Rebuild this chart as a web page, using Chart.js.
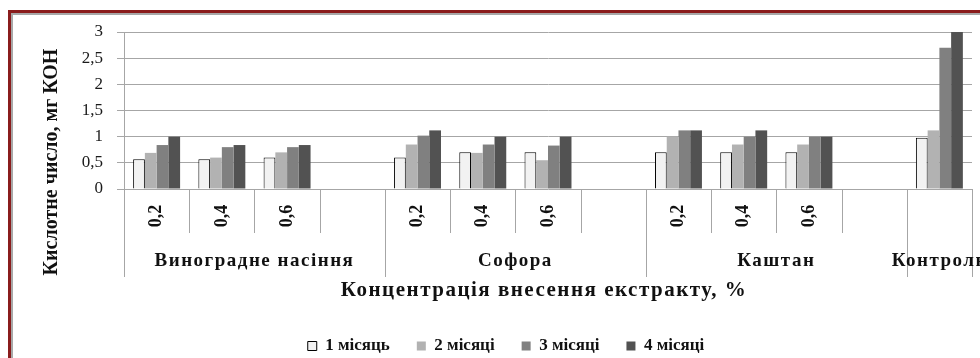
<!DOCTYPE html>
<html>
<head>
<meta charset="utf-8">
<script src="https://cdn.jsdelivr.net/npm/chart.js@4/dist/chart.umd.min.js"></script>
<style>
  html, body { margin: 0; padding: 0; background: #fff; }
  #wrap { width: 980px; height: 358px; }
</style>
</head>
<body>
<div id="wrap"><canvas id="graphique"></canvas></div>
<script>
const concentrations = ["0,2", "0,4", "0,6", "", "0,2", "0,4", "0,6", "", "0,2", "0,4", "0,6", "", ""];
const extraits = ["Виноградне насіння", "Софора", "Каштан", "Контроль"];
const colonnesParExtrait = [4, 4, 4, 1];

const mois1 = [0.57, 0.57, 0.60, null, 0.60, 0.70, 0.70, null, 0.70, 0.70, 0.70, null, 0.98];
const mois2 = [0.69, 0.60, 0.70, null, 0.85, 0.69, 0.55, null, 1.00, 0.85, 0.85, null, 1.12];
const mois3 = [0.84, 0.80, 0.80, null, 1.02, 0.85, 0.83, null, 1.12, 1.00, 1.00, null, 2.70];
const mois4 = [1.00, 0.84, 0.84, null, 1.12, 1.00, 1.00, null, 1.12, 1.12, 1.00, null, 3.00];

const nomsSeries = ["1 місяць", "2 місяці", "3 місяці", "4 місяці"];
const ticksY = [0, 0.5, 1, 1.5, 2, 2.5, 3];

const police = "'Liberation Serif', 'Times New Roman', serif";
const gris = "#a6a6a6";

// cadre rouge + fond blanc
const cadre = {
  id: "cadre",
  beforeDraw(chart) {
    const ctx = chart.ctx;
    ctx.save();
    ctx.fillStyle = "#fff";
    ctx.fillRect(0, 0, chart.width, chart.height);
    ctx.strokeStyle = "#8a1c1c";
    ctx.lineWidth = 3;
    ctx.beginPath();
    ctx.moveTo(9.5, chart.height + 5);
    ctx.lineTo(9.5, 11.5);
    ctx.lineTo(chart.width + 5, 11.5);
    ctx.stroke();
    ctx.strokeStyle = "#a8a8a8";
    ctx.lineWidth = 2;
    ctx.beginPath();
    ctx.moveTo(12, chart.height + 5);
    ctx.lineTo(12, 14);
    ctx.lineTo(chart.width + 5, 14);
    ctx.stroke();
    ctx.restore();
  }
};

// axe des catégories à deux niveaux + titres des axes
const axeGroupes = {
  id: "axeGroupes",
  afterDraw(chart) {
    const ctx = chart.ctx;
    const x = chart.scales.x;
    const area = chart.chartArea;
    const pas = x.getPixelForValue(1) - x.getPixelForValue(0);
    const bords = [];
    for (let i = 0; i <= concentrations.length; i++) {
      bords.push(x.getPixelForValue(0) - pas / 2 + i * pas);
    }
    const limites = [0];
    for (let n of colonnesParExtrait) limites.push(limites[limites.length - 1] + n);

    ctx.save();
    ctx.strokeStyle = gris;
    ctx.lineWidth = 1;
    for (let i = 0; i < bords.length; i++) {
      const bx = Math.round(bords[i]) + 0.5;
      const long = limites.includes(i);
      ctx.beginPath();
      ctx.moveTo(bx, area.bottom);
      ctx.lineTo(bx, area.bottom + (long ? 88 : 44));
      ctx.stroke();
    }

    ctx.fillStyle = "#111";
    ctx.textAlign = "center";
    ctx.textBaseline = "middle";
    ctx.font = "bold 18px " + police;
    for (let i = 0; i < concentrations.length; i++) {
      if (!concentrations[i]) continue;
      ctx.save();
      ctx.translate(x.getPixelForValue(i), area.bottom + 27);
      ctx.rotate(-Math.PI / 2);
      ctx.fillText(concentrations[i], 0, 0);
      ctx.restore();
    }

    ctx.font = "bold 19px " + police;
    ctx.letterSpacing = "1.5px";
    for (let g = 0; g < extraits.length; g++) {
      const cx = (bords[limites[g]] + bords[limites[g + 1]]) / 2;
      ctx.fillText(extraits[g], cx, area.bottom + 72);
    }

    ctx.font = "bold 21px " + police;
    ctx.fillText("Концентрація внесення екстракту, %", (area.left + area.right) / 2 - 4, area.bottom + 102);

    ctx.letterSpacing = "0px";
    ctx.save();
    ctx.translate(52, 162);
    ctx.rotate(-Math.PI / 2);
    ctx.font = "bold 20px " + police;
    ctx.fillText("Кислотне число, мг КОН", 0, 0);
    ctx.restore();
    ctx.restore();
  }
};

const data = {
  labels: concentrations,
  datasets: [
    { label: nomsSeries[0], data: mois1, backgroundColor: "#f2f2f2", borderColor: "#000", borderWidth: 1 },
    { label: nomsSeries[1], data: mois2, backgroundColor: "#b2b2b2", borderColor: "#b2b2b2", borderWidth: 0 },
    { label: nomsSeries[2], data: mois3, backgroundColor: "#808080", borderColor: "#808080", borderWidth: 0 },
    { label: nomsSeries[3], data: mois4, backgroundColor: "#525252", borderColor: "#525252", borderWidth: 0 }
  ]
};

const config = {
  type: "bar",
  data: data,
  options: {
    responsive: true,
    maintainAspectRatio: false,
    animation: false,
    datasets: { bar: { categoryPercentage: 0.72, barPercentage: 1.0 } },
    layout: { padding: { left: 40, top: 32, right: 8, bottom: -6.5 } },
    plugins: {
      tooltip: { enabled: false },
      legend: {
        position: "bottom",
        labels: {
          boxWidth: 9,
          boxHeight: 9,
          padding: 27,
          color: "#111",
          font: { family: police, size: 17, weight: "bold" }
        }
      }
    },
    scales: {
      x: {
        ticks: { display: false },
        grid: { display: false },
        border: { display: false },
        afterFit(scale) { scale.height = 121.5; }
      },
      y: {
        min: 0,
        max: 3,
        afterBuildTicks(scale) { scale.ticks = ticksY.map(v => ({ value: v })); },
        afterFit(scale) { scale.width = 84; },
        ticks: {
          padding: 14,
          color: "#1a1a1a",
          font: { family: police, size: 17 },
          callback: v => String(v).replace(".", ",")
        },
        grid: { color: gris, tickLength: 7, tickColor: gris },
        border: { color: gris }
      }
    }
  },
  plugins: [cadre, axeGroupes]
};

new Chart(document.querySelector("#graphique"), config);
</script>
</body>
</html>
